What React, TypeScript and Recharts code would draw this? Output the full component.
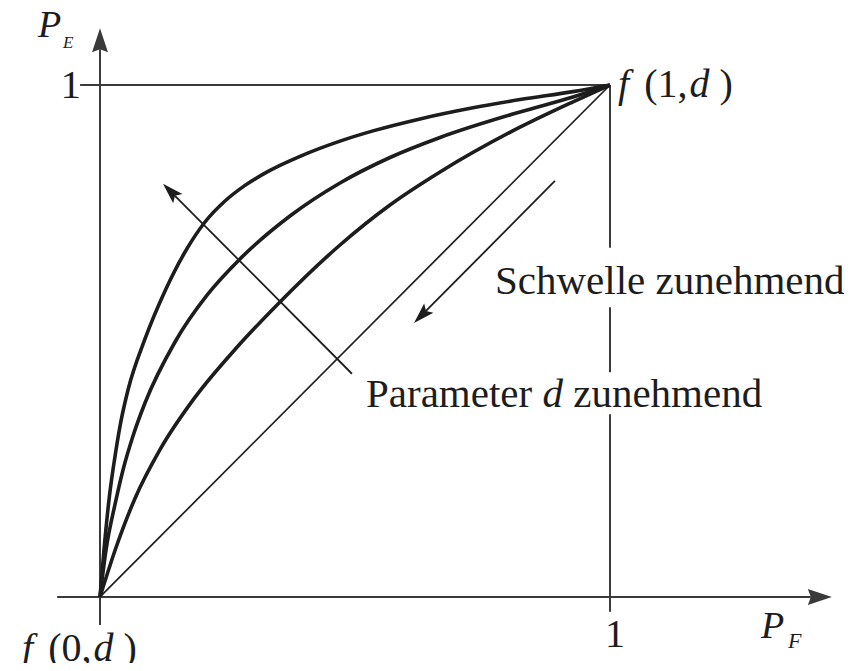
import React from 'react';
import { LineChart, Line, XAxis, YAxis, ReferenceLine, ReferenceDot } from 'recharts';

// ROC curves: false-alarm probability P_F against detection probability P_E
// for three values of the separation parameter d (largest d first).
const pfHighD = [0, 0.0078, 0.0176, 0.0314, 0.0412, 0.0549, 0.0882, 0.1275, 0.1667, 0.2059, 0.2451, 0.2843, 0.3333, 0.3922, 0.4706, 0.5353, 0.6275, 0.7314, 0.8235, 0.9275, 1];
const peHighD = [0, 0.0918, 0.1895, 0.2871, 0.3438, 0.4043, 0.5039, 0.5977, 0.6738, 0.7324, 0.7734, 0.8039, 0.8332, 0.8607, 0.8904, 0.9104, 0.9338, 0.9555, 0.9715, 0.9871, 1];

const pfMidD = [0, 0.0118, 0.0314, 0.0451, 0.0647, 0.0882, 0.1471, 0.2118, 0.2745, 0.3725, 0.4706, 0.5686, 0.6667, 0.8235, 0.9275, 1];
const peMidD = [0, 0.0918, 0.1895, 0.248, 0.3145, 0.3789, 0.498, 0.5918, 0.6602, 0.7441, 0.8086, 0.8584, 0.8975, 0.9473, 0.9766, 1];

const pfLowD = [0, 0.0294, 0.0686, 0.1176, 0.1843, 0.2667, 0.349, 0.4706, 0.5686, 0.6667, 0.8235, 0.9275, 1];
const peLowD = [0, 0.0908, 0.1924, 0.2877, 0.3873, 0.4857, 0.5723, 0.6875, 0.7656, 0.8301, 0.9176, 0.9672, 1];

// chance line P_E = P_F
const pfChance = [0, 1];
const peChance = [0, 1];

// tick labels
const xTickLabel = '1';
const yTickLabel = '1';

const zip = (xs: number[], ys: number[]) => xs.map((x, i) => ({ x, y: ys[i] }));

const SERIF = "'Liberation Serif', 'Times New Roman', serif";
const INK = '#1d1d1d';
const AXIS = '#3a3a3a';

type Seg = { x1: number; y1: number; x2: number; y2: number };

// line with a filled, slightly notched arrowhead at its second end point
function arrowShape(headLen: number, headHalf: number, width: number, color: string, notch: number) {
  return (p: Seg) => {
    const { x1, y1, x2, y2 } = p;
    const a = Math.atan2(y2 - y1, x2 - x1);
    const c = Math.cos(a);
    const s = Math.sin(a);
    const bx = x2 - headLen * c;
    const by = y2 - headLen * s;
    const nx = bx + notch * c;
    const ny = by + notch * s;
    const pts = [
      `${x2},${y2}`,
      `${bx - s * headHalf},${by + c * headHalf}`,
      `${nx},${ny}`,
      `${bx + s * headHalf},${by - c * headHalf}`,
    ].join(' ');
    return (
      <g>
        <line x1={x1} y1={y1} x2={nx} y2={ny} stroke={color} strokeWidth={width} />
        <polygon points={pts} fill={color} />
      </g>
    );
  };
}

const plainLine = (width: number, color: string) => (p: Seg) => (
  <line x1={p.x1} y1={p.y1} x2={p.x2} y2={p.y2} stroke={color} strokeWidth={width} />
);

const at = (render: (cx: number, cy: number) => React.ReactElement) => (p: { cx: number; cy: number }) =>
  render(p.cx, p.cy);

// f(t,d) label: italic f and d, upright parentheses and number
const fLabel = (cx: number, cy: number, arg: string) => (
  <text x={cx} y={cy} fontSize={40} fill={INK} fontFamily={SERIF}>
    <tspan fontStyle="italic">f</tspan>
    <tspan dx={15}>({arg},</tspan>
    <tspan dx={2} fontStyle="italic">d</tspan>
    <tspan dx={10}>)</tspan>
  </text>
);

export default function App() {
  const axisArrow = arrowShape(24, 8, 2, AXIS, 3);
  const noteArrow = arrowShape(21, 6.5, 1.8, INK, 4);
  const thin = plainLine(2, AXIS);

  return (
    <div style={{ margin: -8 }}>
      <LineChart
        width={859}
        height={671}
        margin={{ top: 8.2, right: 19.5, bottom: 12.6, left: 49 }}
        style={{ fontFamily: SERIF }}
      >
        <XAxis type="number" dataKey="x" domain={[-0.1, 1.45]} allowDataOverflow hide />
        <YAxis type="number" dataKey="y" domain={[-0.12, 1.15]} allowDataOverflow hide />

        {/* axes with arrowheads */}
        <ReferenceLine segment={[{ x: -0.084, y: 0 }, { x: 1.435, y: 0 }]} shape={axisArrow} />
        <ReferenceLine segment={[{ x: 0, y: -0.055 }, { x: 0, y: 1.111 }]} shape={axisArrow} />

        {/* P_E = 1 level and P_F = 1 marker, the latter broken behind the notes */}
        <ReferenceLine segment={[{ x: -0.039, y: 1 }, { x: 1, y: 1 }]} shape={thin} />
        <ReferenceLine segment={[{ x: 1, y: 1 }, { x: 1, y: 0.682 }]} shape={thin} />
        <ReferenceLine segment={[{ x: 1, y: 0.566 }, { x: 1, y: 0.439 }]} shape={thin} />
        <ReferenceLine segment={[{ x: 1, y: 0.357 }, { x: 1, y: -0.029 }]} shape={thin} />

        <Line data={zip(pfChance, peChance)} dataKey="y" type="linear" stroke={INK} strokeWidth={1.7} dot={false} activeDot={false} isAnimationActive={false} />
        <Line data={zip(pfLowD, peLowD)} dataKey="y" type="monotone" stroke={INK} strokeWidth={3.6} dot={false} activeDot={false} isAnimationActive={false} />
        <Line data={zip(pfMidD, peMidD)} dataKey="y" type="monotone" stroke={INK} strokeWidth={3.6} dot={false} activeDot={false} isAnimationActive={false} />
        <Line data={zip(pfHighD, peHighD)} dataKey="y" type="monotone" stroke={INK} strokeWidth={3.6} dot={false} activeDot={false} isAnimationActive={false} />

        {/* direction arrows */}
        <ReferenceLine segment={[{ x: 0.494, y: 0.436 }, { x: 0.1235, y: 0.807 }]} shape={noteArrow} />
        <ReferenceLine segment={[{ x: 0.892, y: 0.8125 }, { x: 0.6157, y: 0.535 }]} shape={noteArrow} />

        {/* axis titles and tick labels */}
        <ReferenceDot
          x={0}
          y={1}
          ifOverflow="visible"
          shape={at((cx, cy) => (
            <g fill={INK} fontFamily={SERIF} fontStyle="italic">
              <text x={cx - 62} y={cy - 48} fontSize={38}>P</text>
              <text x={cx - 37} y={cy - 37} fontSize={17}>E</text>
              <text x={cx - 19} y={cy + 13} fontSize={41} fontStyle="normal" textAnchor="end">{yTickLabel}</text>
            </g>
          ))}
        />
        <ReferenceDot
          x={1}
          y={0}
          ifOverflow="visible"
          shape={at((cx, cy) => (
            <g fill={INK} fontFamily={SERIF}>
              <text x={cx + 5} y={cy + 50} fontSize={40} textAnchor="middle">{xTickLabel}</text>
              <text x={cx + 151} y={cy + 41} fontSize={38} fontStyle="italic">P</text>
              <text x={cx + 178} y={cy + 51} fontSize={22} fontStyle="italic">F</text>
            </g>
          ))}
        />
        <ReferenceDot x={1} y={1} ifOverflow="visible" shape={at((cx, cy) => fLabel(cx + 8, cy + 12, '1'))} />
        <ReferenceDot x={0} y={0} ifOverflow="visible" shape={at((cx, cy) => fLabel(cx - 78, cy + 64, '0'))} />

        {/* notes */}
        <ReferenceDot
          x={0.7745}
          y={0.592}
          ifOverflow="visible"
          shape={at((cx, cy) => (
            <text x={cx} y={cy} fontSize={41} fill={INK} fontFamily={SERIF}>Schwelle zunehmend</text>
          ))}
        />
        <ReferenceDot
          x={0.5216}
          y={0.371}
          ifOverflow="visible"
          shape={at((cx, cy) => (
            <text x={cx} y={cy} fontSize={41} fill={INK} fontFamily={SERIF}>
              Parameter <tspan fontStyle="italic">d</tspan> zunehmend
            </text>
          ))}
        />
      </LineChart>
    </div>
  );
}
